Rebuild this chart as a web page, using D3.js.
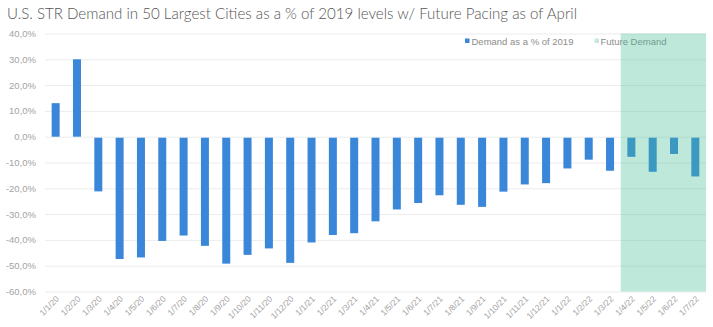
<!DOCTYPE html>
<html>
<head>
<meta charset="utf-8">
<script src="https://cdn.jsdelivr.net/npm/d3@7"></script>
<style>
  body { margin: 0; background: #fff; }
  svg { display: block; }
</style>
</head>
<body>
<svg></svg>
<script>
const width = 713;
const height = 327;
const svg = d3.select("svg").attr("width", width).attr("height", height);

// months, Jan 2020 .. Jul 2022 (d/m/yy)
const months = [
	"1/1/20", "1/2/20", "1/3/20", "1/4/20", "1/5/20", "1/6/20", "1/7/20", "1/8/20",
	"1/9/20", "1/10/20", "1/11/20", "1/12/20",
	"1/1/21", "1/2/21", "1/3/21", "1/4/21", "1/5/21", "1/6/21", "1/7/21", "1/8/21",
	"1/9/21", "1/10/21", "1/11/21", "1/12/21",
	"1/1/22", "1/2/22", "1/3/22", "1/4/22", "1/5/22", "1/6/22", "1/7/22"
];

// demand vs 2019, percent
const demand = [
	13.0, 30.0, -21.2, -47.4, -46.8, -40.4, -38.3, -42.3,
	-49.2, -45.8, -43.3, -48.9,
	-41.0, -38.1, -37.4, -32.8, -28.2, -25.7, -22.7, -26.4,
	-27.2, -21.3, -18.5, -18.0,
	-12.3, -8.9, -13.2, -7.8, -13.6, -6.7, -15.4
];

// first month that is forward pacing
const futureStart = "1/4/22";

const yTicks = [40, 30, 20, 10, 0, -10, -20, -30, -40, -50, -60];
const yTickLabels = ["40,0%", "30,0%", "20,0%", "10,0%", "0,0%", "-10,0%", "-20,0%", "-30,0%", "-40,0%", "-50,0%", "-60,0%"];

const legendLabels = ["Demand as a % of 2019", "Future Demand"];

const blue = "#3a86d8";
const green = "#3dbb92";
const grey = "#a3a3a3";

const plotLeft = 45, plotRight = 706, plotTop = 33.5, plotBottom = 291.5;

const x = d3.scaleBand()
	.domain(months)
	.range([plotLeft, plotRight])
	.paddingInner(0.625)
	.paddingOuter(0.3125);

const y = d3.scaleLinear()
	.domain([-60, 40])
	.range([plotBottom, plotTop]);

// title
svg.append("text")
	.attr("x", 7)
	.attr("y", 19)
	.attr("textLength", 570)
	.attr("lengthAdjust", "spacingAndGlyphs")
	.style("font-family", "Lato, 'Open Sans', sans-serif")
	.style("font-weight", 300)
	.style("font-size", "15px")
	.style("fill", "#555")
	.text("U.S. STR Demand in 50 Largest Cities as a % of 2019 levels w/ Future Pacing as of April");

// gridlines + y labels
const yAxis = d3.axisLeft(y)
	.tickValues(yTicks)
	.tickSize(-(plotRight - plotLeft))
	.tickPadding(9)
	.tickFormat((d, i) => yTickLabels[i]);

const yg = svg.append("g")
	.attr("transform", `translate(${plotLeft},0)`)
	.call(yAxis);
yg.select(".domain").remove();
yg.selectAll(".tick line").style("stroke", "#ececec").style("stroke-width", 1);
yg.selectAll(".tick text")
	.style("font-family", "'Liberation Sans', Arial, sans-serif")
	.style("font-size", "9.5px")
	.style("fill", grey);

// bars
svg.append("g")
	.selectAll("rect")
	.data(months.map((m, i) => ({ m, v: demand[i] })))
	.join("rect")
	.attr("x", d => x(d.m))
	.attr("width", x.bandwidth())
	.attr("y", d => d.v >= 0 ? y(d.v) : y(0) + 1)
	.attr("height", d => Math.abs(y(d.v) - y(0)) - (d.v >= 0 ? 0 : 1))
	.style("fill", blue);

// x labels
const xAxis = d3.axisBottom(x).tickSize(0).tickPadding(0);
const xg = svg.append("g")
	.attr("transform", `translate(0,${plotBottom})`)
	.call(xAxis);
xg.select(".domain").remove();
xg.selectAll(".tick text")
	.attr("text-anchor", "end")
	.attr("dy", 0)
	.attr("transform", "translate(4,8) rotate(-45)")
	.style("font-family", "'Liberation Sans', Arial, sans-serif")
	.style("font-size", "8.5px")
	.style("fill", grey);

// legend
const legend = svg.append("g")
	.style("font-family", "'Liberation Sans', Arial, sans-serif")
	.style("font-size", "9.5px");

legend.append("rect")
	.attr("x", 465).attr("y", 38.5)
	.attr("width", 4.5).attr("height", 4.5)
	.style("fill", blue);
legend.append("text")
	.attr("x", 471.5).attr("y", 44.5)
	.style("fill", "#8c8c8c")
	.text(legendLabels[0]);

legend.append("rect")
	.attr("x", 594.5).attr("y", 38.5)
	.attr("width", 4.5).attr("height", 4.5)
	.style("fill", green)
	.style("opacity", 0.3);
legend.append("text")
	.attr("x", 600.5).attr("y", 44.5)
	.style("fill", "#8c8c8c")
	.text(legendLabels[1]);

// shaded forward-pacing window, laid over bars
const gap = x.step() - x.bandwidth();
svg.append("rect")
	.attr("x", x(futureStart) - gap / 2)
	.attr("y", plotTop)
	.attr("width", plotRight - (x(futureStart) - gap / 2))
	.attr("height", plotBottom - plotTop)
	.style("fill", green)
	.style("opacity", 0.34);
</script>
</body>
</html>
